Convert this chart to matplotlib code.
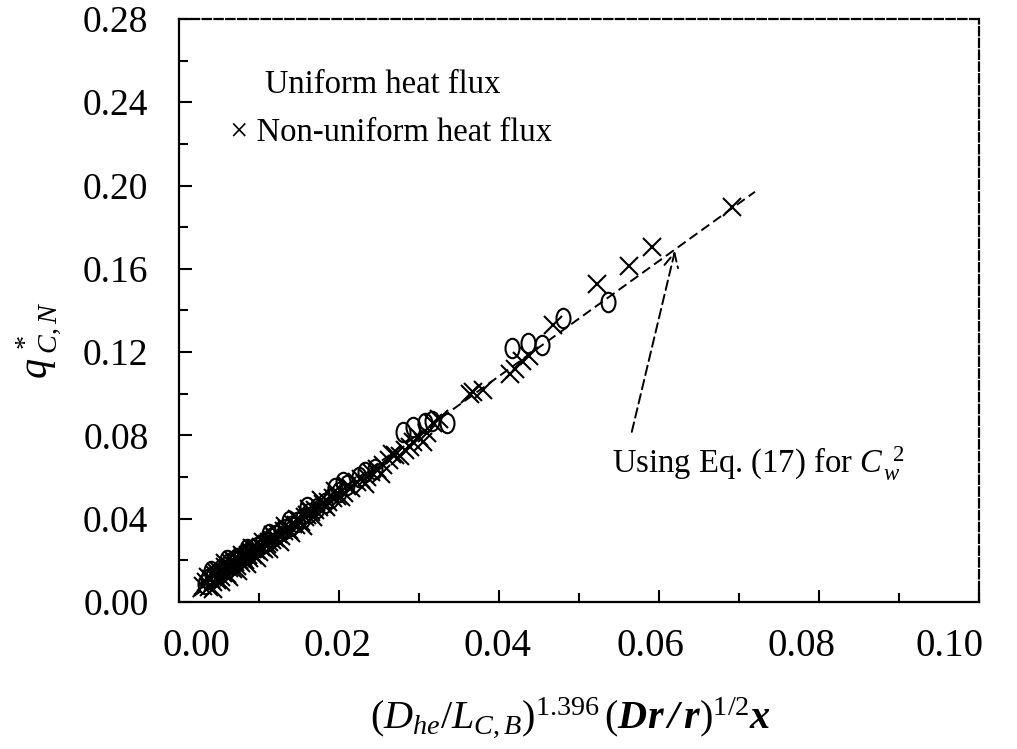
import numpy as np
import matplotlib
matplotlib.use("Agg")
import matplotlib.pyplot as plt
from matplotlib.path import Path
from matplotlib.transforms import Affine2D, ScaledTranslation

plt.rcParams["font.family"] = ["Liberation Serif", "DejaVu Serif"]
plt.rcParams["mathtext.fontset"] = "custom"
plt.rcParams["mathtext.rm"] = "Liberation Serif"
plt.rcParams["mathtext.it"] = "Liberation Serif:italic"
plt.rcParams["mathtext.bf"] = "Liberation Serif:bold"
plt.rcParams["mathtext.bfit"] = "Liberation Serif:italic:bold"
plt.rcParams["lines.scale_dashes"] = False

# non-uniform heat flux runs
nonuni_x = [0.0030, 0.0034, 0.0038, 0.0040, 0.0043, 0.0045, 0.0048, 0.0050, 0.0052, 0.0055,
            0.0057, 0.0060, 0.0062, 0.0065, 0.0068, 0.0070, 0.0072, 0.0075, 0.0078, 0.0080,
            0.0083, 0.0086, 0.0088, 0.0090, 0.0093, 0.0096, 0.0100, 0.0103, 0.0106, 0.0110,
            0.0113, 0.0116, 0.0120, 0.0124, 0.0128, 0.0131, 0.0135, 0.0138, 0.0142, 0.0146,
            0.0150, 0.0153, 0.0157, 0.0160, 0.0165, 0.0170, 0.0175, 0.0180, 0.0186, 0.0192,
            0.0198, 0.0203, 0.0210, 0.0222, 0.0235, 0.0240, 0.0248, 0.0255, 0.0262, 0.0270,
            0.0276, 0.0283, 0.0289, 0.0293, 0.0300, 0.0310, 0.0318, 0.0325, 0.0364, 0.0368,
            0.0380, 0.0414, 0.0420, 0.0429, 0.0438, 0.0468, 0.0522, 0.0562, 0.0591, 0.0691,
            0.0036, 0.0042, 0.0047, 0.0053, 0.0058, 0.0063, 0.0067, 0.0074, 0.0079, 0.0085,
            0.0091, 0.0098, 0.0105, 0.0112, 0.0118, 0.0126, 0.0133, 0.0140, 0.0148, 0.0155,
            0.0162, 0.0168, 0.0178, 0.0184, 0.0195, 0.0206, 0.0215, 0.0228, 0.0232, 0.0252,
            0.0266, 0.0305]
nonuni_q = [0.0075, 0.0095, 0.0070, 0.0110, 0.0095, 0.0130, 0.0105, 0.0150, 0.0120, 0.0140,
            0.0170, 0.0135, 0.0165, 0.0185, 0.0160, 0.0190, 0.0175, 0.0200, 0.0185, 0.0215,
            0.0200, 0.0225, 0.0210, 0.0240, 0.0225, 0.0250, 0.0240, 0.0265, 0.0255, 0.0280,
            0.0290, 0.0300, 0.0305, 0.0325, 0.0315, 0.0340, 0.0350, 0.0345, 0.0375, 0.0370,
            0.0395, 0.0385, 0.0410, 0.0420, 0.0430, 0.0440, 0.0455, 0.0470, 0.0480, 0.0500,
            0.0510, 0.0505, 0.0555, 0.0575, 0.0600, 0.0625, 0.0640, 0.0660, 0.0680, 0.0705,
            0.0700, 0.0730, 0.0745, 0.0770, 0.0790, 0.0810, 0.0860, 0.0880, 0.1000, 0.1010,
            0.1020, 0.1095, 0.1120, 0.1155, 0.1180, 0.1330, 0.1525, 0.1615, 0.1705, 0.1895,
            0.0120, 0.0060, 0.0140, 0.0095, 0.0185, 0.0120, 0.0200, 0.0150, 0.0225, 0.0180,
            0.0260, 0.0210, 0.0290, 0.0255, 0.0320, 0.0290, 0.0365, 0.0330, 0.0400, 0.0365,
            0.0445, 0.0410, 0.0490, 0.0455, 0.0535, 0.0525, 0.0545, 0.0590, 0.0565, 0.0615,
            0.0710, 0.0770]

# uniform heat flux runs
uni_x = [0.0032, 0.0036, 0.0042, 0.0047, 0.0053, 0.0058, 0.0063, 0.0067, 0.0073, 0.0077,
         0.0082, 0.0087, 0.0092, 0.0098, 0.0104, 0.0109, 0.0115, 0.0121, 0.0127, 0.0133,
         0.0140, 0.0147, 0.0155, 0.0163, 0.0172, 0.0182, 0.0190, 0.0200, 0.0210, 0.0225,
         0.0245, 0.0280, 0.0293, 0.0316, 0.0335, 0.0416, 0.0436, 0.0454, 0.0480, 0.0536,
         0.0040, 0.0060, 0.0085, 0.0112, 0.0137, 0.0160, 0.0195, 0.0205, 0.0233, 0.0307]
uni_q = [0.0085, 0.0110, 0.0125, 0.0140, 0.0160, 0.0170, 0.0185, 0.0195, 0.0210, 0.0215,
         0.0230, 0.0240, 0.0255, 0.0265, 0.0280, 0.0290, 0.0305, 0.0320, 0.0340, 0.0350,
         0.0365, 0.0385, 0.0405, 0.0425, 0.0450, 0.0475, 0.0500, 0.0530, 0.0560, 0.0600,
         0.0640, 0.0815, 0.0840, 0.0870, 0.0860, 0.1220, 0.1245, 0.1235, 0.1365, 0.1440,
         0.0150, 0.0200, 0.0255, 0.0325, 0.0390, 0.0455, 0.0545, 0.0575, 0.0625, 0.0860]

# correlation line (Eq. 17) end points
fit_x = [0.0017, 0.0720]
fit_q = [0.0024, 0.1970]

xticks = [0.00, 0.02, 0.04, 0.06, 0.08, 0.10]
xticklabels = ["0.00", "0.02", "0.04", "0.06", "0.08", "0.10"]
yticks = [0.00, 0.04, 0.08, 0.12, 0.16, 0.20, 0.24, 0.28]
yticklabels = ["0.00", "0.04", "0.08", "0.12", "0.16", "0.20", "0.24", "0.28"]

fig = plt.figure(figsize=(10.17, 7.49), dpi=100)
ax = fig.add_axes([0.176, 0.1963, 0.7866, 0.7784])

# narrow open ellipse for the uniform-flux points
oval = Path.unit_circle().transformed(Affine2D().scale(0.72, 1.0))

ax.plot(fit_x, fit_q, color="black", lw=1.4, dashes=(7, 3.5), zorder=2)
ax.plot(nonuni_x, nonuni_q, ls="none", marker="x", ms=13, mew=1.5,
        color="black", zorder=3)
ax.plot(uni_x, uni_q, ls="none", marker=oval, ms=14, mew=1.5,
        mfc="none", mec="black", zorder=3)

ax.set_xlim(0, 0.10)
ax.set_ylim(0, 0.28)

ax.set_xticks(xticks, xticklabels)
ax.set_xticks(np.arange(0.01, 0.10, 0.02), minor=True)
ax.set_yticks(yticks, yticklabels)
ax.set_yticks(np.arange(0.02, 0.28, 0.04), minor=True)

ax.tick_params(which="both", direction="in", top=False, right=False, width=1.5)
ax.tick_params(which="major", length=9)
ax.tick_params(which="minor", length=6.5)
ax.tick_params(axis="x", which="major", labelsize=28, pad=19)
ax.tick_params(axis="y", which="major", labelsize=27, pad=22)

# shift x tick labels to where they sit in the figure
shifts = [17, -1, -1, -9, -17, -29]
for lab, dx in zip(ax.get_xticklabels(), shifts):
    lab.set_transform(lab.get_transform() + ScaledTranslation(dx / 100, 0, fig.dpi_scale_trans))

for side in ["left", "bottom", "top", "right"]:
    ax.spines[side].set_linewidth(1.6)
ax.spines["top"].set_linestyle((0, (6, 2.5)))
ax.spines["right"].set_linestyle((0, (6, 2.5)))

ax.set_xlabel(r"$(D_{he}/L_{C,B})^{1.396}\,(\mathbfit{Dr\,/\,r})^{1/2}\mathbfit{x}$", fontsize=29)
ax.xaxis.set_label_coords(0.49, -0.199)
ax.xaxis.label.set_va("center")

ax.set_ylabel(r"$q^{\,*}_{\;C,N}$", fontsize=29)
ax.yaxis.set_label_coords(-0.176, 0.45)
ax.yaxis.label.set_va("center")

ax.text(0.1075, 0.887, "Uniform heat flux", transform=ax.transAxes,
        fontsize=23.5, va="center", ha="left")
ax.text(0.064, 0.804, "\u00d7 Non-uniform heat flux", transform=ax.transAxes,
        fontsize=23.5, va="center", ha="left")

ax.annotate("", xy=(0.0620, 0.1686), xytext=(0.0566, 0.0817),
            arrowprops=dict(arrowstyle="->", color="black", lw=1.4,
                            linestyle=(0, (7, 3.5)), mutation_scale=25,
                            shrinkA=0, shrinkB=0))
ax.text(0.541, 0.238, r"Using Eq. (17) for $C_{\,w}^{\;\;2}$", transform=ax.transAxes,
        fontsize=23.5, va="center", ha="left")

fig.savefig("out.png", dpi=100)
